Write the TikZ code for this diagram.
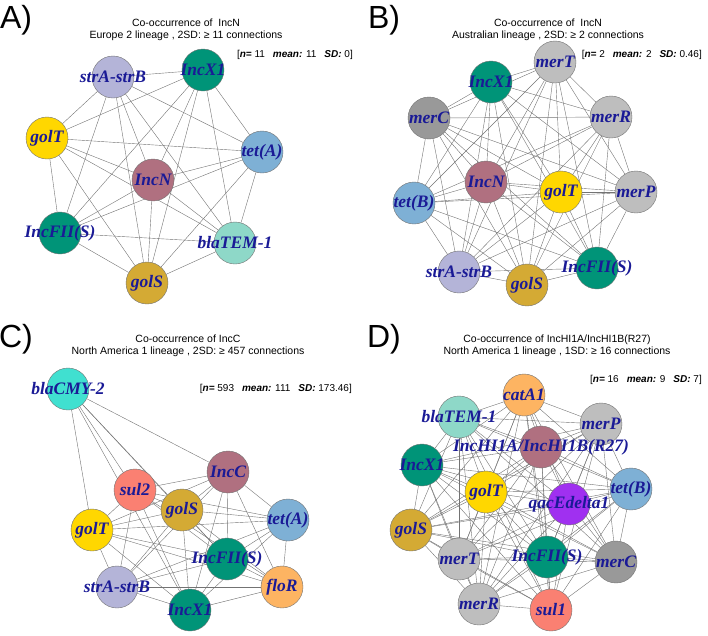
\documentclass[tikz,border=0pt]{standalone}
\usepackage{fontspec}
\setmainfont{Liberation Serif}
\setsansfont{Liberation Sans}
\usepackage{tikz}
\usetikzlibrary{calc}

\pgfdeclarelayer{edgelayer}
\pgfdeclarelayer{labels}
\pgfsetlayers{edgelayer,main,labels}

% colours of the genes
\definecolor{cLav}{HTML}{B4B4D8}
\definecolor{cTeal}{HTML}{009478}
\definecolor{cYel}{HTML}{FFD700}
\definecolor{cBlue}{HTML}{7EB0D5}
\definecolor{cMauve}{HTML}{B07080}
\definecolor{cAqua}{HTML}{8ED8C8}
\definecolor{cGold}{HTML}{D4AA34}
\definecolor{cGray}{HTML}{BEBEBE}
\definecolor{cDGray}{HTML}{999999}
\definecolor{cTurq}{HTML}{40E0D0}
\definecolor{cSalmon}{HTML}{FA8072}
\definecolor{cOrange}{HTML}{FDB462}
\definecolor{cPurple}{HTML}{A030F0}
\definecolor{cLabel}{HTML}{1A1A96}

\tikzset{
  gene/.style={circle, draw=black!55, line width=0.4pt, minimum size=42pt, inner sep=0pt},
  glabel/.style={text=cLabel, inner sep=0pt, font=\bfseries\itshape\fontsize{17.5}{20}\selectfont},
  edge/.style={draw=black!55, line width=0.4pt},
  panel/.style={font=\sffamily\fontsize{32}{34}\selectfont},
  title/.style={align=center, font=\sffamily\fontsize{10.5}{12}\selectfont},
  stats/.style={anchor=east, inner sep=0pt, font=\sffamily\fontsize{10}{12}\selectfont}
}

% circle with its name on top
\newcommand{\gene}[4]{%
  \node[gene, fill=#3] (#1) at (#2) {};
  \begin{pgfonlayer}{labels}\node[glabel] at (#1) {#4};\end{pgfonlayer}}
% every pair of the list
\newcommand{\linkall}[1]{%
  \foreach \u [count=\i] in {#1}
    \foreach \v [count=\j] in {#1}
      {\ifnum\j>\i \draw[edge] (\u) -- (\v);\fi}}
\newcommand{\bi}[1]{\textbf{\textit{#1}}}
\newcommand{\gap}{\hspace{8pt}}

\begin{document}
\begin{tikzpicture}[x=1pt, y=-1pt]
	\useasboundingbox (0,0) rectangle (708,635);
	
	% panel A
	\node[panel] (pA) at (16,20) {A)};
	\node[title] (tA) at (186,30) {Co-occurrence of \ IncN\\Europe 2 lineage , 2SD: ≥ 11 connections};
	\node[stats] (sA) at (353,55) {[\bi{n=} 11\gap\bi{mean:} 11\gap\bi{SD:} 0]};
	\gene{aStr}{113,77}{cLav}{strA-strB}
	\gene{aX1}{203,70}{cTeal}{IncX1}
	\gene{aGolT}{47,138}{cYel}{golT}
	\gene{aTetA}{262,152}{cBlue}{tet(A)}
	\gene{aIncN}{153,180}{cMauve}{IncN}
	\gene{aFII}{60,233}{cTeal}{IncFII(S)}
	\gene{aTEM}{235,243}{cAqua}{blaTEM-1}
	\gene{aGolS}{147,283}{cGold}{golS}
	
	% panel B
	\node[panel] (pB) at (384,20) {B)};
	\node[title] (tB) at (548,30) {Co-occurrence of \ IncN\\Australian lineage , 2SD: ≥ 2 connections};
	\node[stats] (sB) at (702,55) {[\bi{n=} 2\gap\bi{mean:} 2\gap\bi{SD:} 0.46]};
	\gene{bMerT}{555,62}{cGray}{merT}
	\gene{bX1}{491,82}{cTeal}{IncX1}
	\gene{bMerC}{429,118}{cDGray}{merC}
	\gene{bMerR}{611,117}{cGray}{merR}
	\gene{bIncN}{486,182}{cMauve}{IncN}
	\gene{bGolT}{561,192}{cYel}{golT}
	\gene{bMerP}{636,192}{cGray}{merP}
	\gene{bTetB}{414,203}{cBlue}{tet(B)}
	\gene{bStr}{459,272}{cLav}{strA-strB}
	\gene{bFII}{597,268}{cTeal}{IncFII(S)}
	\gene{bGolS}{527,285}{cGold}{golS}
	
	% panel C
	\node[panel] (pC) at (16,339) {C)};
	\node[title] (tC) at (188,346) {Co-occurrence of IncC\\North America 1 lineage , 2SD: ≥ 457 connections};
	\node[stats] (sC) at (352,389) {[\bi{n=} 593\gap\bi{mean:} 111\gap\bi{SD:} 173.46]};
	\gene{cCMY}{68,389}{cTurq}{blaCMY-2}
	\gene{cIncC}{228,472}{cMauve}{IncC}
	\gene{cSul2}{135,490}{cSalmon}{sul2}
	\gene{cGolT}{92,530}{cYel}{golT}
	\gene{cTetA}{288,520}{cBlue}{tet(A)}
	\gene{cGolS}{182,510}{cGold}{golS}
	\gene{cFII}{227,559}{cTeal}{IncFII(S)}
	\gene{cFloR}{282,587}{cOrange}{floR}
	\gene{cStr}{117,587}{cLav}{strA-strB}
	\gene{cX1}{190,610}{cTeal}{IncX1}
	
	% panel D
	\node[panel] (pD) at (384,339) {D)};
	\node[title] (tD) at (557,346) {Co-occurrence of IncHI1A/IncHI1B(R27)\\North America 1 lineage , 1SD: ≥ 16 connections};
	\node[stats] (sD) at (702,380) {[\bi{n=} 16\gap\bi{mean:} 9\gap\bi{SD:} 7]};
	\gene{dCat}{524,395}{cOrange}{catA1}
	\gene{dMerP}{601,424}{cGray}{merP}
	\gene{dHI1}{541,447}{cMauve}{}
	\gene{dTEM}{459,417}{cAqua}{blaTEM-1}
	\gene{dX1}{422,465}{cTeal}{IncX1}
	\gene{dTetB}{631,489}{cBlue}{tet(B)}
	\gene{dGolT}{486,492}{cYel}{golT}
	\gene{dQac}{569,504}{cPurple}{qacEdelta1}
	\gene{dGolS}{411,530}{cGold}{golS}
	\gene{dMerT}{459,559}{cGray}{merT}
	\gene{dMerC}{616,562}{cDGray}{merC}
	\gene{dFII}{547,557}{cTeal}{IncFII(S)}
	\gene{dMerR}{479,604}{cGray}{merR}
	\gene{dSul1}{551,610}{cSalmon}{sul1}
	\begin{pgfonlayer}{labels}
	\node[glabel] (lHI1) at (dHI1) {IncHI1A/IncHI1B(R27)};
	\end{pgfonlayer}
	
	% connections
	\begin{pgfonlayer}{edgelayer}
	\linkall{aStr,aX1,aGolT,aTetA,aIncN,aFII,aTEM,aGolS}
	\linkall{bMerT,bX1,bMerC,bMerR,bIncN,bGolT,bMerP,bTetB,bStr,bFII,bGolS}
	\linkall{cIncC,cSul2,cGolT,cTetA,cGolS,cFII,cFloR,cStr,cX1}
	\foreach \v in {cIncC,cSul2,cGolS,cFII,cX1,cGolT}
	  \draw[edge] (cCMY) -- (\v);
	\linkall{dCat,dMerP,dHI1,dTEM,dX1,dTetB,dGolT,dQac,dGolS,dMerT,dMerC,dFII,dMerR,dSul1}
	\end{pgfonlayer}
\end{tikzpicture}
\end{document}
